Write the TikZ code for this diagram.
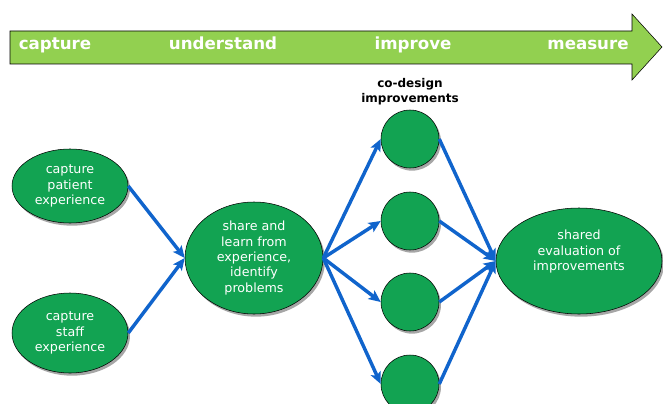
\documentclass[tikz,border=0pt]{standalone}
\usepackage{fontspec}
\setmainfont{DejaVu Sans}
\usetikzlibrary{arrows.meta,shapes.geometric,shadows}
\definecolor{bandgreen}{RGB}{146,208,80}
\definecolor{nodegreen}{RGB}{18,163,82}
\definecolor{flowblue}{RGB}{16,100,204}

\begin{document}
\begin{tikzpicture}[x=0.75pt, y=-0.75pt, >={Stealth[length=9pt, width=8pt, inset=2pt]},
          idea/.style={ellipse, draw=black, thin, fill=nodegreen, text=white,
            inner sep=0pt, align=center, font=\fontsize{9.5}{11.6}\selectfont,
            drop shadow={shadow xshift=1.5pt, shadow yshift=-2pt, fill=black!35, opacity=1}},
          stage/.style={text=white, anchor=base, font=\fontsize{12.5}{14}\selectfont\bfseries},
          flow/.style={->, draw=flowblue, line width=2.6pt}]

          \useasboundingbox (0,0) rectangle (663,403);

          % the timeline band
          \draw[fill=bandgreen, thin] (10,31) -- (632,31) -- (632,14) -- (662,47)
            -- (632,80) -- (632,64) -- (10,64) -- cycle;
          \node[stage] (capture) at (55,50) {capture};
          \node[stage] (understand) at (223,50) {understand};
          \node[stage] (improve) at (413,50) {improve};
          \node[stage] (measure) at (588,50) {measure};

          \node[idea, minimum width=87pt, minimum height=55.5pt] (patient) at (70,186)
            {capture\\patient\\experience};
          \node[idea, minimum width=87pt, minimum height=60pt] (staff) at (70,333)
            {capture\\staff\\experience};
          \node[idea, minimum width=103.5pt, minimum height=84pt] (share) at (254,258)
            {share and\\learn from\\experience,\\identify\\problems};
          \node[idea, minimum width=124.5pt, minimum height=79.5pt] (eval) at (579,261)
            {shared\\evaluation of\\improvements\\[4.4pt]\mbox{}};

          \node[align=center, font=\fontsize{9}{11}\selectfont\bfseries] (codesign)
            at (410,92) {co-design\\improvements};
          \foreach \i/\y in {1/139,2/221,3/302,4/384}
            \node[idea, circle, minimum size=43.5pt] (c\i) at (410,\y) {};

          \draw[flow] (patient.east) -- (share.west);
          \draw[flow] (staff.east) -- (share.west);
          \foreach \i in {1,...,4} {
            \draw[flow] (share.east) -- (c\i.west);
            \draw[flow] (c\i.east) -- (eval.west);
          }
        \end{tikzpicture}
\end{document}
